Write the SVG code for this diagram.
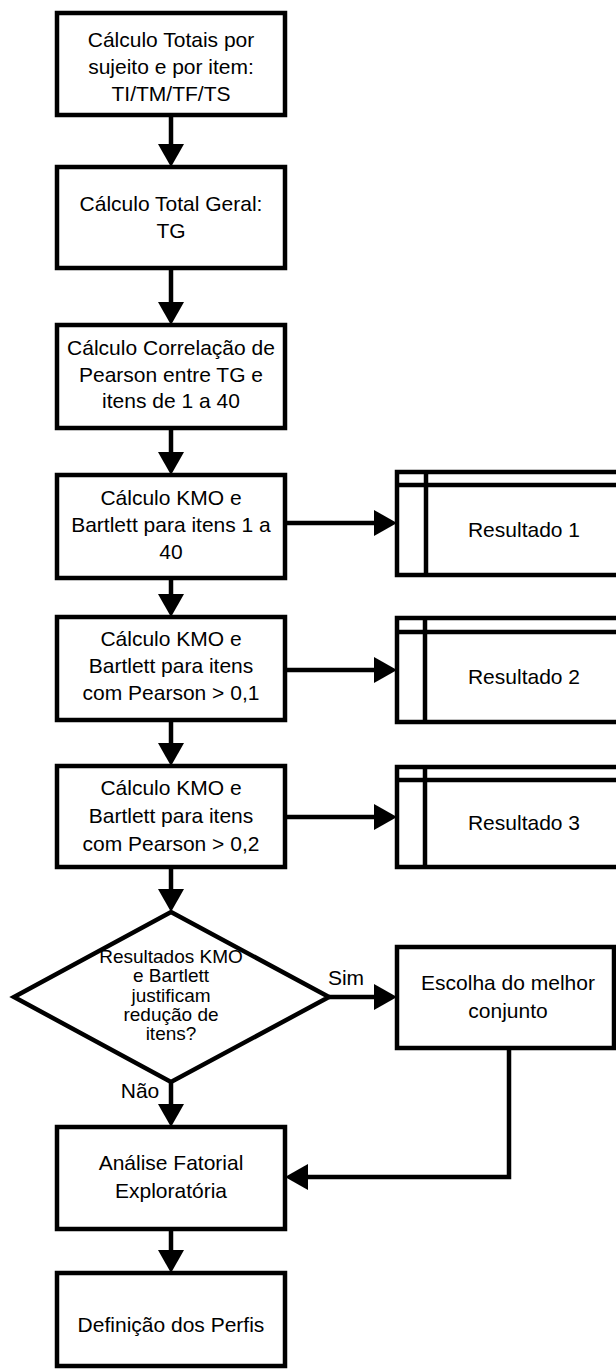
<svg xmlns="http://www.w3.org/2000/svg" width="616" height="1371" viewBox="0 0 616 1371">
<style>
  .box { fill: #ffffff; stroke: #000000; stroke-width: 4.5; }
  .ln { fill: none; stroke: #000000; stroke-width: 4.5; }
  .t { font-family: "Liberation Sans", Arial, sans-serif; font-size: 21px; fill: #000000; text-anchor: middle; }
  .td { font-family: "Liberation Sans", Arial, sans-serif; font-size: 19px; fill: #000000; text-anchor: middle; }
</style>
<defs>
  <marker id="arr" markerUnits="userSpaceOnUse" markerWidth="24" markerHeight="26" viewBox="0 0 24 26" refX="1" refY="13" orient="auto">
    <path d="M0,0 L23,13 L0,26 Z" fill="#000000"/>
  </marker>
</defs>
<rect width="616" height="1371" fill="#ffffff"/>

<g id="connectors">
  <line class="ln" x1="171" y1="115" x2="171" y2="145" marker-end="url(#arr)"/>
  <line class="ln" x1="171" y1="268" x2="171" y2="303" marker-end="url(#arr)"/>
  <line class="ln" x1="171" y1="428" x2="171" y2="453" marker-end="url(#arr)"/>
  <line class="ln" x1="285" y1="523" x2="375" y2="523" marker-end="url(#arr)"/>
  <line class="ln" x1="171" y1="578" x2="171" y2="595" marker-end="url(#arr)"/>
  <line class="ln" x1="285" y1="670" x2="375" y2="670" marker-end="url(#arr)"/>
  <line class="ln" x1="171" y1="720" x2="171" y2="744" marker-end="url(#arr)"/>
  <line class="ln" x1="285" y1="817" x2="375" y2="817" marker-end="url(#arr)"/>
  <line class="ln" x1="171" y1="867" x2="171" y2="890" marker-end="url(#arr)"/>
  <line class="ln" x1="329" y1="997" x2="375" y2="997" marker-end="url(#arr)"/>
  <line class="ln" x1="171" y1="1082" x2="171" y2="1105" marker-end="url(#arr)"/>
  <polyline class="ln" points="509,1048 509,1177 307,1177" marker-end="url(#arr)"/>
  <line class="ln" x1="171" y1="1229" x2="171" y2="1251" marker-end="url(#arr)"/>
  <text class="t" x="346" y="985">Sim</text>
  <text class="t" x="140" y="1098">Não</text>
</g>

<g id="n1">
  <rect class="box" x="57" y="13" width="228" height="102"/>
  <text class="t" x="171" y="47">Cálculo Totais por</text>
  <text class="t" x="171" y="74">sujeito e por item:</text>
  <text class="t" x="171" y="101">TI/TM/TF/TS</text>
</g>
<g id="n2">
  <rect class="box" x="57" y="167" width="228" height="101"/>
  <text class="t" x="171" y="211">Cálculo Total Geral:</text>
  <text class="t" x="171" y="238">TG</text>
</g>
<g id="n3">
  <rect class="box" x="57" y="325" width="228" height="103"/>
  <text class="t" x="171" y="355">Cálculo Correlação de</text>
  <text class="t" x="171" y="382">Pearson entre TG e</text>
  <text class="t" x="171" y="408">itens de 1 a 40</text>
</g>
<g id="n4">
  <rect class="box" x="57" y="475" width="228" height="103"/>
  <text class="t" x="171" y="505">Cálculo KMO e</text>
  <text class="t" x="171" y="532">Bartlett para itens 1 a</text>
  <text class="t" x="171" y="559">40</text>
</g>
<g id="r1">
  <rect class="box" x="397" y="472" width="230" height="103"/>
  <line class="ln" x1="397" y1="485" x2="627" y2="485"/>
  <line class="ln" x1="426" y1="472" x2="426" y2="575"/>
  <text class="t" x="524" y="537">Resultado 1</text>
</g>
<g id="n5">
  <rect class="box" x="57" y="617" width="228" height="103"/>
  <text class="t" x="171" y="646">Cálculo KMO e</text>
  <text class="t" x="171" y="673">Bartlett para itens</text>
  <text class="t" x="171" y="700">com Pearson &gt; 0,1</text>
</g>
<g id="r2">
  <rect class="box" x="397" y="618" width="230" height="104"/>
  <line class="ln" x1="397" y1="632" x2="627" y2="632"/>
  <line class="ln" x1="425" y1="618" x2="425" y2="722"/>
  <text class="t" x="524" y="684">Resultado 2</text>
</g>
<g id="n6">
  <rect class="box" x="57" y="766" width="228" height="101"/>
  <text class="t" x="171" y="795">Cálculo KMO e</text>
  <text class="t" x="171" y="823">Bartlett para itens</text>
  <text class="t" x="171" y="851">com Pearson &gt; 0,2</text>
</g>
<g id="r3">
  <rect class="box" x="397" y="767" width="230" height="100"/>
  <line class="ln" x1="397" y1="780" x2="627" y2="780"/>
  <line class="ln" x1="425" y1="767" x2="425" y2="867"/>
  <text class="t" x="524" y="830">Resultado 3</text>
</g>
<g id="d1">
  <polygon class="box" points="171,912 329,997 171,1082 14,997"/>
  <text class="td" x="171" y="963">Resultados KMO</text>
  <text class="td" x="171" y="982">e Bartlett</text>
  <text class="td" x="171" y="1002">justificam</text>
  <text class="td" x="171" y="1021">redução de</text>
  <text class="td" x="171" y="1040">itens?</text>
</g>
<g id="n7">
  <rect class="box" x="397" y="947" width="217" height="101"/>
  <text class="t" x="508" y="990">Escolha do melhor</text>
  <text class="t" x="508" y="1018">conjunto</text>
</g>
<g id="n8">
  <rect class="box" x="57" y="1127" width="228" height="102"/>
  <text class="t" x="171" y="1170">Análise Fatorial</text>
  <text class="t" x="171" y="1198">Exploratória</text>
</g>
<g id="n9">
  <rect class="box" x="57" y="1273" width="228" height="93"/>
  <text class="t" x="171" y="1332">Definição dos Perfis</text>
</g>
</svg>
